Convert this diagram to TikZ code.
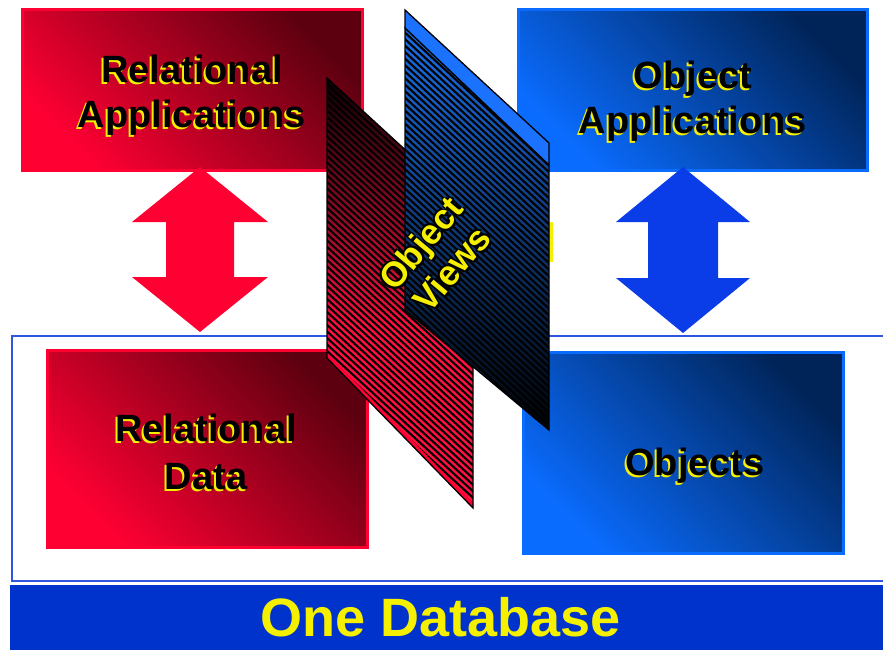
\documentclass[tikz,border=0pt]{standalone}
\usepackage{fontspec}
\setmainfont{Liberation Sans}
\usetikzlibrary{calc}
\definecolor{redbright}{HTML}{FF0033}
\definecolor{reddark}{HTML}{5C000F}
\definecolor{bluebright}{HTML}{0A6CFF}
\definecolor{bluedark}{HTML}{002458}
\definecolor{arrowred}{HTML}{FF0033}
\definecolor{arrowblue}{HTML}{0A3CE8}
\definecolor{bandblue}{HTML}{0033CC}
\definecolor{frameblue}{HTML}{2F55E0}
\definecolor{labelyellow}{HTML}{F4F000}
\definecolor{panelred}{HTML}{FF1040}
\definecolor{panelblue}{HTML}{1A72F0}
\definecolor{paneltop}{HTML}{1A72FF}
\begin{document}
\begin{tikzpicture}[x=1pt,y=-1pt,
  redbox/.style={draw=redbright, line width=3pt, inner sep=0pt,
    top color=reddark, bottom color=redbright, shading angle=-45},
  bluebox/.style={draw=bluebright, line width=3pt, inner sep=0pt,
    top color=bluedark, bottom color=bluebright, shading angle=-45},
  boxlabel/.style={font=\bfseries\fontsize{38}{45}\selectfont, align=center, inner sep=0pt, text=black},
  boxshadow/.style={boxlabel, text=labelyellow},
  framebox/.style={draw=frameblue, line width=2.4pt},
  panel/.style={draw=black, line width=1.3pt, line join=miter},
  stripe/.style={black, line width=2.1pt},
  viewlabel/.style={font=\bfseries\fontsize{35}{40}\selectfont, align=center, inner sep=0pt, rotate=50},
]
\useasboundingbox (0,0) rectangle (883,650);
\fill[white] (0,0) rectangle (883,650);

% ---- application and data boxes
\node[redbox,  minimum width=340pt, minimum height=160pt] (ra) at (192,90)  {};
\node[bluebox, minimum width=349pt, minimum height=160pt] (oa) at (692.5,90) {};
\node[redbox,  minimum width=320pt, minimum height=197pt] (rd) at (207,448.5) {};
\node[bluebox, minimum width=320pt, minimum height=201pt] (ob) at (683,452.5) {};

% ---- labels (yellow shadow below black text)
\node[boxshadow] (ra-s) at ([shift={(-2,2)}]192,95) {Relational\\Applications};
\node[boxlabel]  (ra-t) at (192,95) {Relational\\Applications};
\node[boxshadow] (oa-s) at ([shift={(-2,2)}]693,101) {Object\\Applications};
\node[boxlabel]  (oa-t) at (693,101) {Object\\Applications};
\node[boxshadow, font=\bfseries\fontsize{38}{48}\selectfont] (rd-s) at ([shift={(-2,2)}]206,452) {Relational\\Data};
\node[boxlabel,  font=\bfseries\fontsize{38}{48}\selectfont] (rd-t) at (206,452) {Relational\\Data};
\node[boxshadow] (ob-s) at ([shift={(-2,2)}]695,466) {Objects};
\node[boxlabel]  (ob-t) at (695,466) {Objects};

% ---- double arrows between applications and data
\coordinate (rtip) at (200,167);
\coordinate (rbot) at (200,332);
\fill[arrowred] (rtip) -- ++(68,55) -- ++(-34,0) -- ++(0,55) -- ++(34,0)
  -- (rbot) -- ++(-68,-55) -- ++(34,0) -- ++(0,-55) -- ++(-34,0) -- cycle;
\coordinate (btip) at (683,167);
\coordinate (bbot) at (683,333);
\fill[arrowblue] (btip) -- ++(67,55) -- ++(-32,0) -- ++(0,56) -- ++(32,0)
  -- (bbot) -- ++(-67,-55) -- ++(32,0) -- ++(0,-56) -- ++(-32,0) -- cycle;

% ---- database frame and band
\draw[framebox] (890,336) -- (12,336) -- (12,581) -- (890,581);
\fill[bandblue] (10,585) rectangle (883,650);
\node[font=\bfseries\fontsize{54}{60}\selectfont, text=labelyellow, anchor=base, inner sep=0pt] (db) at (441,636) {One Database};

% ---- red view panel (behind)
\begin{scope}
  \clip (327,78) -- (473,212) -- (473,508) -- (327,358) -- cycle;
  \fill[panelred] (320,300) rectangle (480,515);
  \shade[top color=black, bottom color=panelred] (320,70) rectangle (480,330);
  \foreach \k in {-24,...,72} \draw[stripe] (320,{78+6.5*\k}) -- ++(160,146.7);
  \fill[redbright] (327,353) -- (473,503) -- (473,508) -- (327,358) -- cycle;
\end{scope}
\draw[panel] (327,78) -- (473,212) -- (473,508) -- (327,358) -- cycle;

% ---- blue view panel (front)
\fill[labelyellow] (549,222) rectangle (553,262);
\begin{scope}
  \clip (405,28) -- (549,165) -- (549,430) -- (405,310) -- cycle;
  \shade[top color=panelblue, bottom color=black] (400,20) rectangle (555,435);
  \foreach \k in {-26,...,66} \draw[stripe] (400,{28+6.5*\k}) -- ++(155,143.2);
\end{scope}
\draw[panel] (405,28) -- (549,165) -- (549,430) -- (405,310) -- cycle;
\filldraw[panel, fill=paneltop] (405,10) -- (549,143) -- (549,165) -- (405,28) -- cycle;

% ---- view label, black outline under yellow text
\foreach \dx/\dy [count=\i] in {1.3/1.3, -1.3/1.3, 1.3/-1.3, -1.3/-1.3, 2/2}
  \node[viewlabel, text=black] (ov-\i) at ([shift={(\dx,\dy)}]436,256) {Object\\Views};
\node[viewlabel, text=labelyellow] (ov) at (436,256) {Object\\Views};
\end{tikzpicture}
\end{document}
